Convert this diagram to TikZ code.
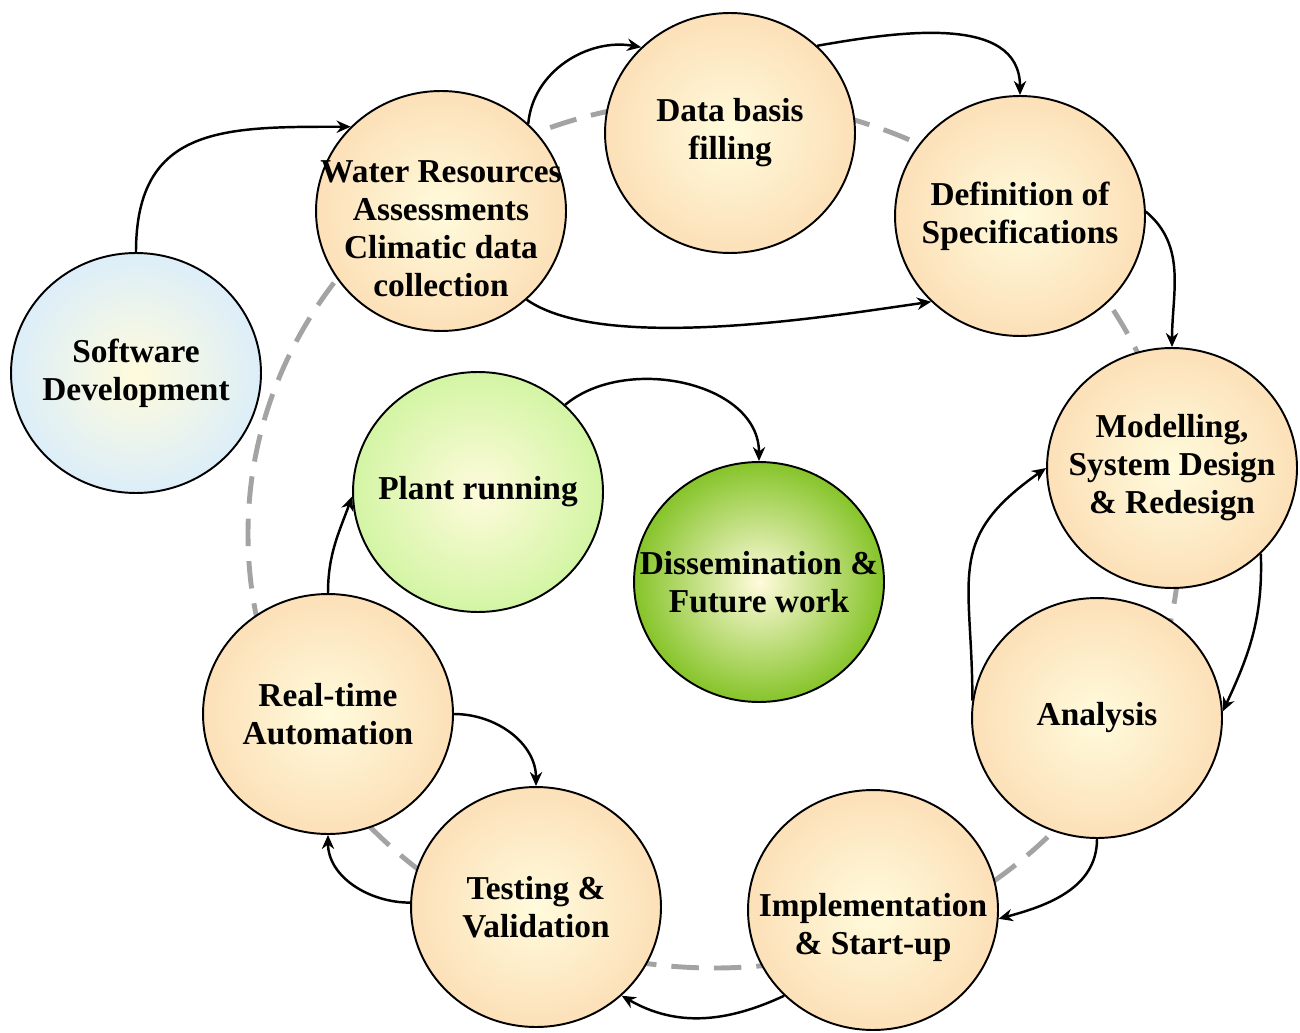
\documentclass[tikz,border=0pt]{standalone}
\usepackage{fontspec}
\setmainfont{Liberation Serif}
\usetikzlibrary{shapes.geometric,arrows.meta}

\definecolor{cream}{HTML}{FFFBDC}
\definecolor{peach}{HTML}{FCE0B8}
\definecolor{skyblue}{HTML}{DCEEF9}
\definecolor{lightgreen}{HTML}{D3F5A4}
\definecolor{leafgreen}{HTML}{86C42A}
\definecolor{trackgray}{HTML}{A3A3A3}

\tikzset{
  stage/.style={ellipse,draw,line width=1.1pt,minimum width=5cm,minimum height=4.8cm,
    inner sep=-20pt,align=center,font=\bfseries\fontsize{19}{21.6}\selectfont,
    shading=radial,inner color=cream,outer color=peach},
  flow/.style={draw,line width=1.4pt,>={Stealth[length=8pt,width=7pt]},->},
  track/.style={draw=trackgray,line width=2.8pt,dash pattern=on 0.55cm off 0.3cm}
}

\begin{document}
\begin{tikzpicture}
        \begin{scope}[x=0.02cm,y=-0.02cm]
            \useasboundingbox (0,0) rectangle (1300,1033);
            % dashed cycle behind the stages
            \draw[track] (714,534) ellipse [x radius=466, y radius=434];

            \node[stage,outer color=skyblue] at (136,373)(soft){Software\\Development};
            \node[stage] at (441,211)(water){\rule{0pt}{33pt}Water Resources\\Assessments\\Climatic data\\collection};
            \node[stage] at (730,133)(data){Data basis\\filling};
            \node[stage] at (1020,216)(spec){Definition of\\Specifications};
            \node[stage] at (1172,468)(model){Modelling,\\System Design\\\& Redesign};
            \node[stage] at (1097,718)(analysis){Analysis};
            \node[stage] at (873,910)(impl){\rule{0pt}{33pt}Implementation\\\& Start-up};
            \node[stage] at (536,907)(test){Testing \&\\Validation};
            \node[stage] at (328,714)(auto){Real-time\\Automation};
            \node[stage,outer color=lightgreen] at (478,492)(plant){Plant running};
            \node[stage,outer color=leafgreen] at (759,582)(dissem){Dissemination \&\\Future work};

            \path[flow] (soft.north) to[out=90,in=180,looseness=1.3] (water.137);
            \path[flow] (water.45) to[out=85,in=170] (data.136);
            \path[flow] (data.45) to[out=10,in=90] (spec.north);
            \path[flow] (water.-46) to[out=-35,in=188,looseness=0.6] (spec.224);
            \path[flow] (spec.2) to[out=-40,in=90] (model.north);
            \path[flow] (model.-44) to[out=-88,in=65] (analysis.3);
            \path[flow] (analysis.172) to[out=90,in=215,looseness=1.3] (model.180);
            \path[flow] (analysis.south) to[out=-90,in=15] (impl.-4);
            \path[flow] (impl.224) to[out=205,in=-30] (test.-46);
            \path[flow] (test.178) to[out=180,in=-90] (auto.south);
            \path[flow] (auto.north) to[out=90,in=250] (plant.182);
            \path[flow] (auto.0) to[out=0,in=90] (test.north);
            \path[flow] (plant.45) to[out=40,in=90] (dissem.north);
        \end{scope}
\end{tikzpicture}
\end{document}
